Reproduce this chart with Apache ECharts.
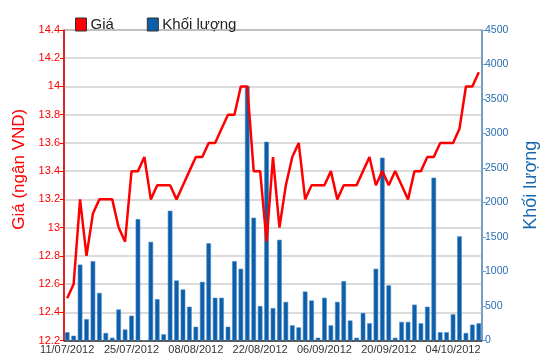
<!DOCTYPE html>
<html>
<head>
<meta charset="utf-8">
<script src="https://cdn.jsdelivr.net/npm/echarts@6/dist/echarts.min.js"></script>
<style>html,body{margin:0;padding:0;background:#fff}#c{width:550px;height:364px}</style>
</head>
<body>
<div id="c"></div>
<script>
const dates = ['11/07/2012','12/07/2012','13/07/2012','16/07/2012','17/07/2012','18/07/2012','19/07/2012','20/07/2012','23/07/2012','24/07/2012',
'25/07/2012','26/07/2012','27/07/2012','30/07/2012','31/07/2012','01/08/2012','02/08/2012','03/08/2012','06/08/2012','07/08/2012',
'08/08/2012','09/08/2012','10/08/2012','13/08/2012','14/08/2012','15/08/2012','16/08/2012','17/08/2012','20/08/2012','21/08/2012',
'22/08/2012','23/08/2012','24/08/2012','27/08/2012','28/08/2012','29/08/2012','30/08/2012','31/08/2012','04/09/2012','05/09/2012',
'06/09/2012','07/09/2012','10/09/2012','11/09/2012','12/09/2012','13/09/2012','14/09/2012','17/09/2012','18/09/2012','19/09/2012',
'20/09/2012','21/09/2012','24/09/2012','25/09/2012','26/09/2012','27/09/2012','28/09/2012','01/10/2012','02/10/2012','03/10/2012',
'04/10/2012','05/10/2012','08/10/2012','09/10/2012','10/10/2012'];

const prices = [12.5,12.6,13.2,12.8,13.1,13.2,13.2,13.2,13.0,12.9,
13.4,13.4,13.5,13.2,13.3,13.3,13.3,13.2,13.3,13.4,
13.5,13.5,13.6,13.6,13.7,13.8,13.8,14.0,14.0,13.4,
13.4,12.9,13.5,13.0,13.3,13.5,13.6,13.2,13.3,13.3,
13.3,13.4,13.2,13.3,13.3,13.3,13.4,13.5,13.3,13.4,
13.3,13.4,13.3,13.2,13.4,13.4,13.5,13.5,13.6,13.6,
13.6,13.7,14.0,14.0,14.1];

const volumes = [120,70,1100,310,1150,690,110,40,450,160,
360,1760,0,1430,600,90,1880,870,740,490,
200,850,1410,620,620,200,1150,1040,3690,1780,
500,2880,470,1460,560,220,190,710,580,40,
620,220,560,860,290,40,400,250,1040,2650,
800,40,270,270,520,250,490,2360,120,120,
380,1510,110,230,250];

const seriesNames = ['Giá', 'Khối lượng'];
const priceAxisName = 'Giá (ngân VND)';
const volumeAxisName = 'Khối lượng';

const chart = echarts.init(document.getElementById('c'));
const FONT = 'Liberation Sans, Arial, sans-serif';
chart.setOption({
  animation: false,
  textStyle: { fontFamily: FONT },
  legend: {
    left: 70, top: 12,
    itemWidth: 11, itemHeight: 13, itemGap: 33,
    icon: 'rect',
    textStyle: { fontSize: 15, color: '#222', fontFamily: FONT, padding: [0,0,0,-1] },
    data: [
      { name: seriesNames[0], itemStyle: { color: '#ff0000', borderColor: '#333', borderWidth: 1 } },
      { name: seriesNames[1], itemStyle: { color: '#0c5ea8', borderColor: '#333', borderWidth: 1 } }
    ]
  },
  grid: { left: 64, right: 68, top: 30, bottom: 23.5, show: true, borderColor: '#222', borderWidth: 1, backgroundColor: 'transparent' },
  xAxis: {
    type: 'category',
    data: dates,
    boundaryGap: true,
    axisLine: { lineStyle: { color: '#333', width: 1.5 } },
    axisTick: { interval: 9, alignWithLabel: true, length: 4, lineStyle: { color: '#333' } },
    axisLabel: { interval: 9, color: '#333', fontSize: 11, margin: 4, fontFamily: FONT },
    splitLine: { show: false }
  },
  yAxis: [
    {
      type: 'value', min: 12.2, max: 14.4, interval: 0.2, position: 'left',
      name: priceAxisName, nameLocation: 'middle', nameGap: 31,
      nameTextStyle: { color: '#ff0000', fontSize: 17, fontFamily: FONT, padding: [0,0,0,32] },
      axisLine: { show: true, lineStyle: { color: '#ff0000', width: 1.5 } },
      axisTick: { show: true, length: 4, lineStyle: { color: '#ff0000' } },
      axisLabel: { color: '#ff0000', fontSize: 11, margin: 4, fontFamily: FONT,
        formatter: v => String(Math.round(v * 10) / 10) },
      splitLine: { show: true, lineStyle: { color: '#cfcfcf', width: 1.5 } }
    },
    {
      type: 'value', min: 0, max: 4500, interval: 500, position: 'right',
      name: volumeAxisName, nameLocation: 'middle', nameGap: 40,
      nameTextStyle: { color: '#1a68ae', fontSize: 18, fontFamily: FONT },
      axisLine: { show: true, lineStyle: { color: '#6fa3d3', width: 1.5 } },
      axisTick: { show: true, length: 4, lineStyle: { color: '#6fa3d3' } },
      axisLabel: { color: '#2a6db0', fontSize: 10.5, margin: 3, fontFamily: FONT,
        formatter: v => String(v) },
      splitLine: { show: false }
    }
  ],
  series: [
    {
      name: seriesNames[0], type: 'line', yAxisIndex: 0, data: prices,
      symbol: 'none', z: 5,
      lineStyle: { color: '#ff0000', width: 2.5 },
      itemStyle: { color: '#ff0000' }
    },
    {
      name: seriesNames[1], type: 'bar', yAxisIndex: 1, data: volumes,
      barWidth: '72%', z: 2,
      itemStyle: { color: '#0c5ea8', borderColor: '#4d8ccb', borderWidth: 0.6 }
    }
  ]
});
</script>
</body>
</html>
